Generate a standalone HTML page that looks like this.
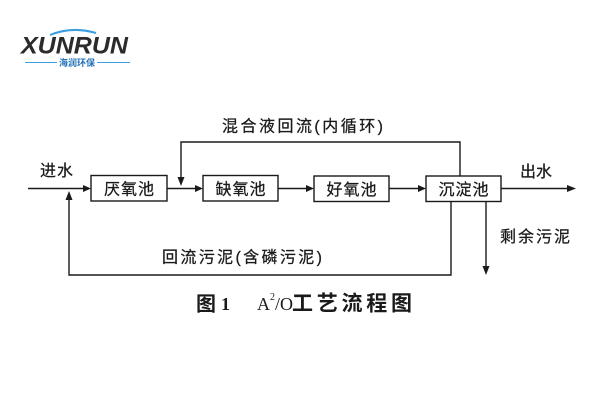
<!DOCTYPE html>
<html><head><meta charset="utf-8"><style>
html,body{margin:0;padding:0;background:#fff;}
svg{display:block;}
</style></head><body>
<svg width="600" height="400" viewBox="0 0 600 400" xmlns="http://www.w3.org/2000/svg">
<rect width="600" height="400" fill="#fff"/>
<!-- logo -->
<path d="M50 35 Q72 26 96 33" stroke="#3a9ee0" stroke-width="2" fill="none"/>
<text x="21" y="53.5" font-family="Liberation Sans, sans-serif" font-size="24" font-weight="bold" font-style="italic" fill="#2b2b2b" textLength="107" lengthAdjust="spacingAndGlyphs">XUNRUN</text>
<line x1="25" y1="62.5" x2="57" y2="62.5" stroke="#3a9ee0" stroke-width="1"/>
<line x1="97" y1="62.5" x2="130" y2="62.5" stroke="#3a9ee0" stroke-width="1"/>
<text x="59" y="66" font-family="Liberation Sans, Noto Sans CJK SC, sans-serif" font-size="9" font-weight="bold" fill="#1e6fb8" textLength="36" lengthAdjust="spacingAndGlyphs">海润环保</text>

<g stroke="#1a1a1a" stroke-width="1.4" fill="none">
<!-- boxes -->
<rect x="91" y="175.5" width="76" height="25.5"/>
<rect x="203" y="175.5" width="75" height="25.5"/>
<rect x="314" y="176" width="75" height="25.5"/>
<rect x="426" y="176" width="75" height="25.5"/>
<!-- main line -->
<line x1="28" y1="188.5" x2="86" y2="188.5"/>
<line x1="167" y1="188.5" x2="198" y2="188.5"/>
<line x1="278" y1="188.5" x2="309" y2="188.5"/>
<line x1="389" y1="188.5" x2="421" y2="188.5"/>
<line x1="501" y1="188.5" x2="570" y2="188.5"/>
<!-- top recycle -->
<polyline points="460,176 460,142 181,142 181,180"/>
<!-- bottom recycle -->
<polyline points="451,201.5 451,275 69,275 69,197"/>
<!-- excess sludge -->
<line x1="486" y1="201.5" x2="486" y2="269"/>
</g>
<g fill="#1a1a1a">
<polygon points="91,188.5 83,185 83,192"/>
<polygon points="203,188.5 195,185 195,192"/>
<polygon points="314,188.5 306,185 306,192"/>
<polygon points="426,188.5 418,185 418,192"/>
<polygon points="576,188.5 567,185 567,192"/>
<polygon points="181,186 177.5,177 184.5,177"/>
<polygon points="69,191 65.5,200 72.5,200"/>
<polygon points="486,275 482.5,266 489.5,266"/>
</g>

<g font-family="Liberation Sans, Noto Sans CJK SC, sans-serif" font-size="16" fill="#1a1a1a" stroke="#1a1a1a" stroke-width="0.25">
<text x="104" y="194.5" textLength="50" lengthAdjust="spacing">厌氧池</text>
<text x="215.5" y="194.5" textLength="50" lengthAdjust="spacing">缺氧池</text>
<text x="326.5" y="195" textLength="50" lengthAdjust="spacing">好氧池</text>
<text x="438.5" y="195" textLength="50" lengthAdjust="spacing">沉淀池</text>
<text x="40" y="176" textLength="33" lengthAdjust="spacing">进水</text>
<text x="520" y="177" textLength="32" lengthAdjust="spacing">出水</text>
<text x="222" y="131.5" textLength="161" lengthAdjust="spacing">混合液回流(内循环)</text>
<text x="162" y="262.5" textLength="160" lengthAdjust="spacing">回流污泥(含磷污泥)</text>
<text x="500" y="242" textLength="70" lengthAdjust="spacing">剩余污泥</text>
</g>

<!-- title -->
<text x="196" y="310.5" font-family="Liberation Sans, Noto Sans CJK SC, sans-serif" font-size="20" font-weight="bold" fill="#1a1a1a">图</text>
<text x="221" y="310" font-family="Liberation Serif, serif" font-size="18" font-weight="bold" fill="#1a1a1a">1</text>
<text x="257" y="310" font-family="Liberation Serif, serif" font-size="18" fill="#1a1a1a">A</text>
<text x="270" y="300" font-family="Liberation Serif, serif" font-size="10" fill="#1a1a1a">2</text>
<text x="275" y="310" font-family="Liberation Serif, serif" font-size="18" fill="#1a1a1a">/O</text>
<text x="292" y="310.5" font-family="Liberation Sans, Noto Sans CJK SC, sans-serif" font-size="21" font-weight="bold" fill="#1a1a1a" textLength="120" lengthAdjust="spacing">工艺流程图</text>
</svg>
</body></html>
